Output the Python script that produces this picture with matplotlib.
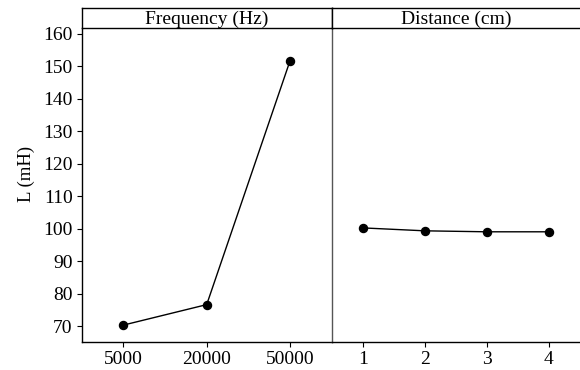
import matplotlib
matplotlib.use("Agg")
import matplotlib.pyplot as plt

plt.rcParams['font.family'] = ['Liberation Serif', 'DejaVu Serif']
plt.rcParams['font.size'] = 14

# data
freq_labels = ["5000", "20000", "50000"]
freq_L = [70.3, 76.6, 151.6]
dist_labels = ["1", "2", "3", "4"]
dist_L = [100.2, 99.3, 99.0, 99.0]
y_ticks = [70, 80, 90, 100, 110, 120, 130, 140, 150, 160]

W, H = 580, 370
fig = plt.figure(figsize=(W / 100, H / 100), dpi=100)

def px(x0, y0, x1, y1):
    # pixel box (top-left origin) -> figure fraction
    return [x0 / W, 1 - y1 / H, (x1 - x0) / W, (y1 - y0) / H]

top, bot, strip_top = 28.3, 342, 8
ax1 = fig.add_axes(px(81.7, top, 331.7, bot))
ax2 = fig.add_axes(px(331.7, top, 580, bot), sharey=ax1)

ax1.plot(range(len(freq_L)), freq_L, color="black", lw=1, marker="o", ms=5.8)
ax1.set_xlim(-0.5, len(freq_L) - 0.5)
ax1.set_xticks(range(len(freq_L)))
ax1.set_xticklabels(freq_labels)

x2 = [int(v) for v in dist_labels]
ax2.plot(x2, dist_L, color="black", lw=1, marker="o", ms=5.8)
ax2.set_xlim(0.5, 4.5)
ax2.set_xticks(x2)
ax2.set_xticklabels(dist_labels)

ax1.set_ylim(65.1, 161.6)
ax1.set_yticks(y_ticks)
ax1.set_ylabel("L (mH)", fontsize=13.5)
ax1.yaxis.set_label_coords(-0.187, 0.535)

for ax in (ax1, ax2):
    ax.spines["top"].set_visible(False)
    ax.spines["right"].set_visible(False)
    ax.spines["bottom"].set_linewidth(1)
    ax.spines["left"].set_linewidth(1)
    ax.tick_params(direction="out", length=3.5, width=0.8, colors="black", labelsize=14, pad=3)
ax2.spines["left"].set_color("#555555")
ax2.tick_params(axis="y", left=False, labelleft=False)

# strip headers
for x0, x1, title in [(81.7, 331.7, "Frequency (Hz)"), (331.7, 580, "Distance (cm)")]:
    s = fig.add_axes(px(x0, strip_top, x1, top))
    s.set_xticks([])
    s.set_yticks([])
    for side in s.spines.values():
        side.set_linewidth(1)
    s.spines["right"].set_visible(x1 < 580)
    s.text(0.5, 0.45, title, ha="center", va="center", transform=s.transAxes, fontsize=14)

fig.savefig("out.png", dpi=100)
